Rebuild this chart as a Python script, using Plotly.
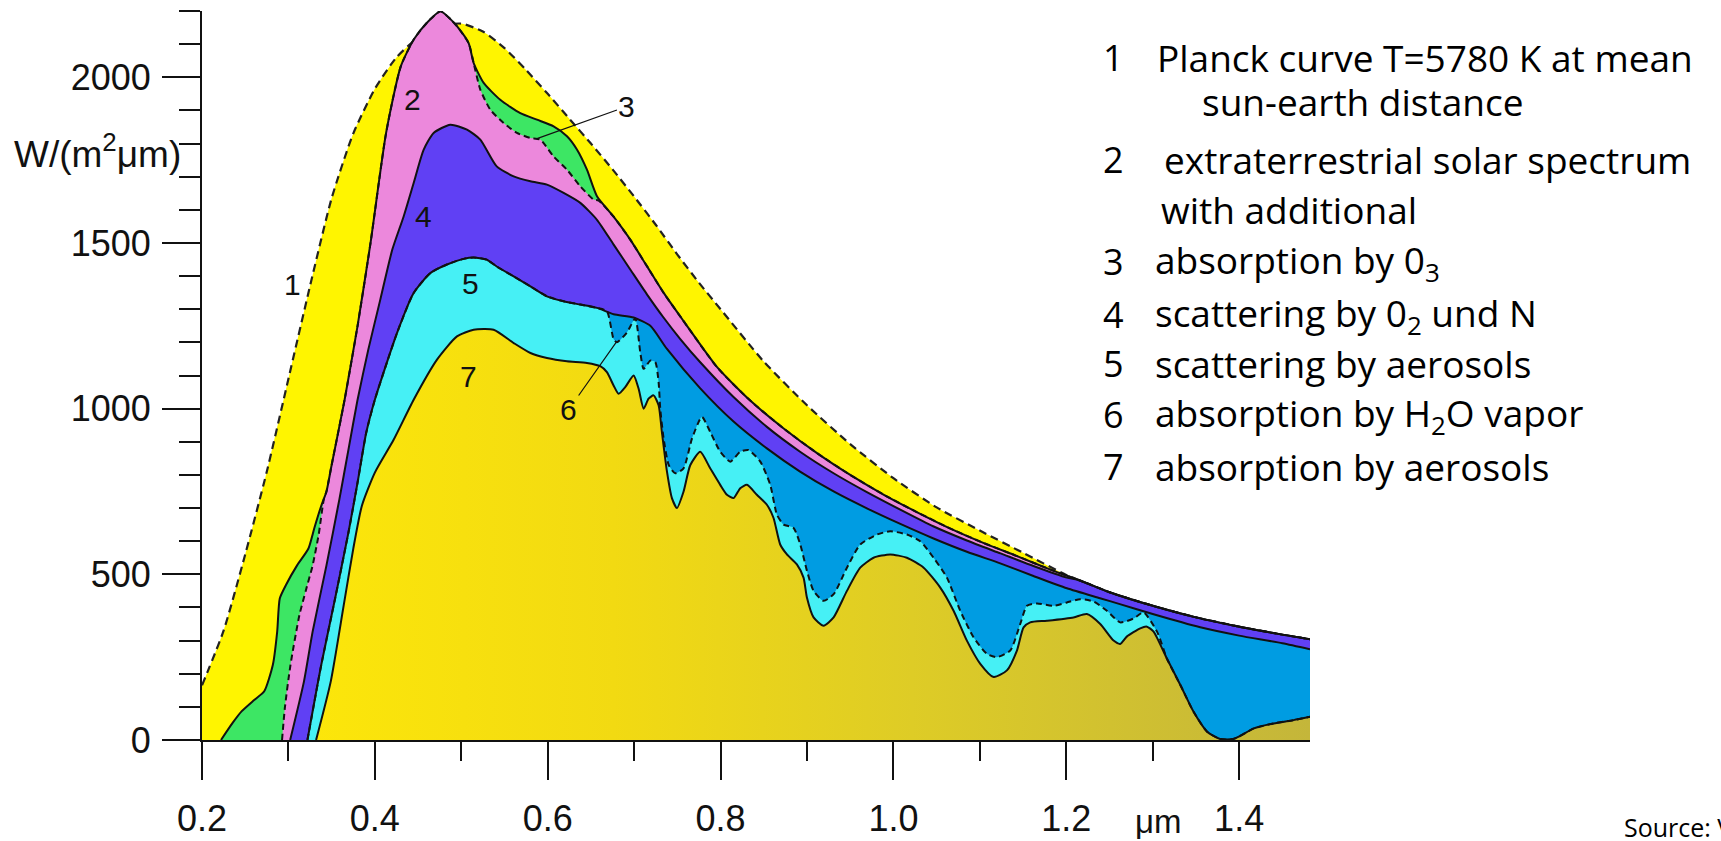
import plotly.graph_objects as go

# ---------------- data ----------------
# wavelength in micrometres, spectral irradiance in W/(m^2 um)
PLANCK_X = [0.200, 0.225, 0.250, 0.275, 0.300, 0.325, 0.350, 0.375, 0.400, 0.425, 0.450, 0.475,
            0.500, 0.525, 0.550, 0.575, 0.600, 0.625, 0.650, 0.675, 0.700, 0.725, 0.750, 0.775,
            0.800, 0.850, 0.900, 0.950, 1.000, 1.050, 1.100, 1.150, 1.200, 1.215, 1.250, 1.300,
            1.350, 1.400, 1.450, 1.482]
PLANCK_Y = [165, 330, 560, 810, 1090, 1370, 1635, 1830, 1965, 2060, 2120, 2155,
            2162, 2138, 2088, 2022, 1950, 1875, 1800, 1722, 1640, 1555, 1465, 1380,
            1300, 1142, 1010, 893, 790, 702, 632, 565, 498, 482, 446, 405,
            370, 342, 318, 304]

EXTRA_X = [0.222, 0.235, 0.246, 0.260, 0.272, 0.282, 0.287, 0.290, 0.297, 0.310, 0.323, 0.330,
           0.338, 0.344, 0.350, 0.365, 0.380, 0.395, 0.413, 0.430, 0.445, 0.460, 0.476, 0.488,
           0.495, 0.5085, 0.5143, 0.5259, 0.5451, 0.5683, 0.5876, 0.6068, 0.6223, 0.6338, 0.6454,
           0.657, 0.676, 0.6955, 0.7148, 0.734, 0.757, 0.796, 0.834, 0.873, 0.912, 0.950, 0.989,
           1.027, 1.066, 1.104, 1.143, 1.181, 1.215, 1.250, 1.300, 1.350, 1.400, 1.450, 1.482]
EXTRA_Y = [0, 50, 87, 120, 147, 227, 327, 427, 467, 527, 577, 640,
           707, 750, 830, 1027, 1250, 1500, 1832, 2033, 2114, 2164, 2199, 2174,
           2154, 2103, 2043, 1983, 1932, 1892, 1872, 1852, 1822, 1782, 1721,
           1641, 1580, 1510, 1430, 1350, 1265, 1125, 1025, 940, 865, 800, 740,
           688, 638, 595, 555, 515, 482, 446, 405, 370, 342, 318, 304]

O3_X = [0.2926, 0.296, 0.3024, 0.3127, 0.320, 0.328, 0.335, 0.341, 0.344, 0.350, 0.365, 0.380,
        0.395, 0.413, 0.430, 0.445, 0.460, 0.476, 0.488, 0.495, 0.5085, 0.5143, 0.522, 0.5336,
        0.549, 0.5644, 0.5798, 0.5914, 0.6068, 0.6223, 0.6377, 0.6531, 0.659, 0.676, 0.6955,
        0.7148, 0.734, 0.757, 0.796, 0.834, 0.873, 0.912, 0.950, 0.989, 1.027, 1.066, 1.104,
        1.143, 1.181, 1.215, 1.250, 1.300, 1.350, 1.400, 1.450, 1.482]
O3_Y = [0, 100, 227, 377, 450, 527, 620, 727, 750, 830, 1027, 1250,
        1500, 1832, 2033, 2114, 2164, 2199, 2174, 2154, 2103, 2043, 1963, 1902,
        1862, 1832, 1817, 1812, 1761, 1721, 1671, 1631, 1628, 1580, 1510,
        1430, 1350, 1265, 1125, 1025, 940, 865, 800, 740, 688, 638, 595,
        555, 515, 482, 446, 405, 370, 342, 318, 304]

RAY_X = [0.302, 0.318, 0.328, 0.344, 0.359, 0.3695, 0.380, 0.3924, 0.4063, 0.4202, 0.4333, 0.4449,
         0.4564, 0.468, 0.4873, 0.5066, 0.522, 0.541, 0.5606, 0.580, 0.5991, 0.6184, 0.6377, 0.657,
         0.6763, 0.6955, 0.7148, 0.734, 0.7534, 0.7765, 0.815, 0.8536, 0.892, 0.9308, 0.9693, 1.008,
         1.046, 1.085, 1.124, 1.162, 1.2007, 1.215, 1.250, 1.300, 1.350, 1.400, 1.450, 1.482]
RAY_Y = [0, 177, 327, 527, 727, 877, 1027, 1178, 1329, 1480, 1580, 1681,
         1781, 1832, 1857, 1842, 1812, 1731, 1701, 1686, 1676, 1651, 1621, 1570,
         1495, 1420, 1345, 1275, 1210, 1140, 1035, 945, 870, 805, 748, 695,
         645, 602, 563, 525, 490, 482, 446, 405, 370, 342, 318, 304]

AERS_X = [0.322, 0.338, 0.354, 0.3695, 0.380, 0.390, 0.400, 0.4256, 0.4449, 0.4641, 0.4834, 0.5027,
          0.5143, 0.529, 0.541, 0.5606, 0.580, 0.5991, 0.6184, 0.6377, 0.657, 0.6763, 0.6994, 0.7187,
          0.738, 0.7765, 0.815, 0.8536, 0.892, 0.9308, 0.9693, 1.008, 1.0464, 1.085, 1.1236, 1.162,
          1.2007, 1.239, 1.262, 1.300, 1.355, 1.400, 1.450, 1.482]
AERS_Y = [0, 227, 427, 627, 777, 927, 1027, 1228, 1349, 1409, 1435, 1452,
          1456, 1450, 1429, 1399, 1369, 1339, 1324, 1314, 1304, 1285, 1275, 1250,
          1180, 1061, 961, 880, 810, 750, 699, 652, 608, 568, 533, 495,
          458, 428, 410, 380, 340, 315, 292, 274]

H2O_X = [0.322, 0.338, 0.354, 0.3695, 0.380, 0.390, 0.400, 0.4256, 0.4449, 0.4641, 0.4834, 0.5027,
         0.5143, 0.529, 0.541, 0.5606, 0.580, 0.5991, 0.6184, 0.6377, 0.657, 0.6685, 0.6762, 0.680,
         0.6917, 0.7013, 0.7071, 0.711, 0.7187, 0.7245, 0.7283, 0.7302, 0.7341, 0.740, 0.7476, 0.7572,
         0.767, 0.7784, 0.788, 0.7996, 0.8112, 0.8228, 0.8324, 0.846, 0.8575, 0.8652, 0.873, 0.8845,
         0.8922, 0.900, 0.9076, 0.9192, 0.9308, 0.9462, 0.9616, 0.981, 0.9963, 1.0156, 1.031, 1.0464,
         1.0619, 1.0773, 1.0927, 1.1082, 1.1197, 1.1352, 1.1467, 1.1545, 1.166, 1.1853, 1.2007, 1.2161,
         1.2316, 1.247, 1.2624, 1.278, 1.2894, 1.305, 1.3164, 1.332, 1.3473, 1.363, 1.378, 1.393,
         1.401, 1.417, 1.440, 1.463, 1.482]
H2O_Y = [0, 227, 427, 627, 777, 927, 1027, 1228, 1349, 1409, 1435, 1452,
         1456, 1450, 1429, 1399, 1369, 1339, 1324, 1314, 1304, 1294, 1210, 1200,
         1230, 1272, 1170, 1120, 1145, 1140, 1080, 1000, 910, 830, 805, 820,
         910, 975, 930, 870, 840, 870, 875, 840, 770, 680, 650, 640,
         590, 510, 450, 420, 440, 520, 590, 620, 630, 620, 600, 550,
         490, 390, 310, 260, 250, 270, 350, 405, 412, 405, 415, 425,
         418, 390, 355, 367, 385, 327, 246, 166, 85, 25, 3, 3,
         12, 35, 50, 60, 70]

GROUND_X = [0.332, 0.349, 0.364, 0.375, 0.385, 0.400, 0.4217, 0.4449, 0.4719, 0.495, 0.5143, 0.5374,
            0.5606, 0.580, 0.5991, 0.6223, 0.6454, 0.6608, 0.6685, 0.6762, 0.682, 0.6897, 0.6994, 0.7052,
            0.711, 0.7167, 0.7225, 0.7283, 0.7321, 0.738, 0.7437, 0.7495, 0.7572, 0.765, 0.7765, 0.788,
            0.7996, 0.8074, 0.8151, 0.8228, 0.8305, 0.842, 0.8536, 0.8613, 0.869, 0.8768, 0.8883, 0.896,
            0.8999, 0.9076, 0.9192, 0.9308, 0.9462, 0.9616, 0.977, 0.9963, 1.0156, 1.035, 1.0542, 1.0696,
            1.085, 1.1005, 1.116, 1.1313, 1.1429, 1.1506, 1.1583, 1.1776, 1.2084, 1.2238, 1.2393, 1.2547,
            1.2624, 1.270, 1.2856, 1.2933, 1.301, 1.3164, 1.332, 1.3473, 1.363, 1.378, 1.393, 1.401,
            1.417, 1.440, 1.463, 1.482]
GROUND_Y = [0, 177, 407, 577, 707, 807, 906, 1027, 1148, 1218, 1238, 1238,
            1198, 1168, 1153, 1143, 1138, 1128, 1110, 1070, 1045, 1065, 1100, 1060,
            1000, 1030, 1040, 1010, 930, 810, 730, 700, 750, 830, 870, 820,
            770, 740, 730, 760, 770, 740, 710, 670, 590, 560, 530, 490,
            430, 370, 345, 370, 450, 520, 550, 560, 550, 520, 460, 390,
            300, 230, 190, 210, 270, 340, 355, 360, 370, 380, 350, 300,
            290, 312, 337, 342, 327, 246, 166, 85, 25, 3, 3, 12,
            35, 50, 60, 70]

X_TICKS = [0.2, 0.4, 0.6, 0.8, 1.0, 1.2, 1.4]
X_TICK_LABELS = ["0.2", "0.4", "0.6", "0.8", "1.0", "1.2", "1.4"]
X_MINOR = [0.3, 0.5, 0.7, 0.9, 1.1, 1.3]
Y_TICKS = [0, 500, 1000, 1500, 2000]
Y_TICK_LABELS = ["0", "500", "1000", "1500", "2000"]
Y_MINOR = [100, 200, 300, 400, 600, 700, 800, 900, 1100, 1200, 1300, 1400,
           1600, 1700, 1800, 1900, 2100, 2200]

CURVE_LABELS = ["1", "2", "4", "5", "7"]
CURVE_LABEL_X = [0.305, 0.443, 0.4564, 0.5104, 0.5085]
CURVE_LABEL_Y = [1374, 1933, 1580, 1379, 1097]

LEGEND_NUMBERS = ["1", "", "2", "", "3", "4", "5", "6", "7"]
LEGEND_TEXTS = ["Planck curve T=5780 K at mean",
                "sun-earth distance",
                "extraterrestrial solar spectrum",
                "with additional",
                "absorption by 0<sub>3</sub>",
                "scattering by 0<sub>2</sub> und N",
                "scattering by aerosols",
                "absorption by H<sub>2</sub>O vapor",
                "absorption by aerosols"]

# ---------------- layout geometry (pixels) ----------------
W, H = 1721, 841
ML, MR, MT, MB = 201.7, 411.3, 11.33, 100.7
PW = W - ML - MR
PH = H - MT - MB


def xp(px):
    return (px - ML) / PW


def yp(py):
    return (H - MB - py) / PH


AXIS_FONT = "Liberation Sans, Arial, sans-serif"
TEXT_FONT = "Open Sans, Noto Sans, sans-serif"

C_YELLOW = "#FFF500"
C_GREEN = "#3DE664"
C_PINK = "#EC88DC"
C_PURPLE = "#6040F4"
C_CYAN = "#46F0F5"
C_BLUE = "#009CE2"

fig = go.Figure()

common = dict(mode="lines", hoverinfo="skip", showlegend=False)
spl = dict(shape="spline", smoothing=0.6)

# filled bands, drawn from the top curve downwards (each filled to zero)
fig.add_trace(go.Scatter(x=PLANCK_X, y=PLANCK_Y, fill="tozeroy", fillcolor=C_YELLOW,
                         line=dict(color="#222222", width=2.2, dash="8px,5px", **spl), **common))
fig.add_trace(go.Scatter(x=EXTRA_X, y=EXTRA_Y, fill="tozeroy", fillcolor=C_GREEN,
                         line=dict(width=0, color=C_GREEN, **spl), **common))
fig.add_trace(go.Scatter(x=O3_X, y=O3_Y, fill="tozeroy", fillcolor=C_PINK,
                         line=dict(width=0, color=C_PINK, **spl), **common))
fig.add_trace(go.Scatter(x=RAY_X, y=RAY_Y, fill="tozeroy", fillcolor=C_PURPLE,
                         line=dict(width=0, color=C_PURPLE, **spl), **common))
fig.add_trace(go.Scatter(x=AERS_X, y=AERS_Y, fill="tozeroy", fillcolor=C_BLUE,
                         line=dict(width=0, color=C_BLUE, **spl), **common))
fig.add_trace(go.Scatter(x=H2O_X, y=H2O_Y, fill="tozeroy", fillcolor=C_CYAN,
                         line=dict(width=0, color=C_CYAN, **spl), **common))
fig.add_trace(go.Scatter(x=GROUND_X, y=GROUND_Y, fill="tozeroy",
                         fillgradient=dict(type="horizontal", start=0.33, stop=1.482,
                                           colorscale=[[0.0, "#FCE60A"], [0.3, "#F2DA12"],
                                                       [0.6, "#DECC26"], [1.0, "#C4B63A"]]),
                         line=dict(width=0, color="#DDCC22", **spl), **common))

# boundary lines on top
fig.add_trace(go.Scatter(x=EXTRA_X, y=EXTRA_Y, line=dict(color="#111111", width=2, **spl), **common))
fig.add_trace(go.Scatter(x=O3_X, y=O3_Y, line=dict(color="#111111", width=2, dash="6px,4px", **spl), **common))
fig.add_trace(go.Scatter(x=RAY_X, y=RAY_Y, line=dict(color="#111111", width=2, **spl), **common))
fig.add_trace(go.Scatter(x=AERS_X, y=AERS_Y, line=dict(color="#111111", width=2, **spl), **common))
fig.add_trace(go.Scatter(x=H2O_X, y=H2O_Y, line=dict(color="#111111", width=2, dash="6px,4px", **spl), **common))
fig.add_trace(go.Scatter(x=GROUND_X, y=GROUND_Y, line=dict(color="#111111", width=2, **spl), **common))

annotations = []
for t, x, y in zip(CURVE_LABELS, CURVE_LABEL_X, CURVE_LABEL_Y):
    annotations.append(dict(x=x, y=y, xref="x", yref="y", text=t, showarrow=False,
                            font=dict(family=AXIS_FONT, size=30, color="#111111")))
# labels with pointer lines
annotations.append(dict(x=0.5876, y=1815, ax=0.6917, ay=1912, xref="x", yref="y",
                        axref="x", ayref="y", text="3", showarrow=True, arrowhead=0,
                        arrowwidth=1.2, arrowcolor="#111111",
                        font=dict(family=AXIS_FONT, size=30, color="#111111")))
annotations.append(dict(x=0.680, y=1203, ax=0.6242, ay=997, xref="x", yref="y",
                        axref="x", ayref="y", text="6", showarrow=True, arrowhead=0,
                        arrowwidth=1.2, arrowcolor="#111111",
                        font=dict(family=AXIS_FONT, size=30, color="#111111")))

# y unit and x unit
annotations.append(dict(x=xp(183), y=yp(152), xref="paper", yref="paper", xanchor="right",
                        yanchor="middle", text="W/(m<sup>2</sup>μm)", showarrow=False,
                        font=dict(family=AXIS_FONT, size=37, color="#111111")))
annotations.append(dict(x=1.307, y=yp(822), xref="x", yref="paper", xanchor="center",
                        yanchor="middle", text="μm", showarrow=False,
                        font=dict(family=AXIS_FONT, size=33, color="#111111")))

# legend text block on the right
LEG_BASE = [70.7, 115, 173.3, 223.3, 275, 328.3, 376.7, 428.3, 480]
LEG_TX = [1154.8, 1199.8, 1162.1, 1159, 1152.7, 1152.7, 1152.7, 1152.7, 1152.7]
for num, txt, b, tx in zip(LEGEND_NUMBERS, LEGEND_TEXTS, LEG_BASE, LEG_TX):
    if num:
        annotations.append(dict(x=xp(1113), y=yp(b - 13), xref="paper", yref="paper",
                                xanchor="center", yanchor="middle", text=num, showarrow=False,
                                font=dict(family=TEXT_FONT, size=36, color="#000000")))
    annotations.append(dict(x=xp(tx), y=yp(b - 13), xref="paper", yref="paper",
                            xanchor="left", yanchor="middle", text=txt, showarrow=False,
                            font=dict(family=TEXT_FONT, size=37, color="#000000")))

annotations.append(dict(x=xp(1622), y=yp(827), xref="paper", yref="paper", xanchor="left",
                        yanchor="middle", text="Source: V", showarrow=False,
                        font=dict(family=TEXT_FONT, size=25, color="#000000")))

fig.update_layout(
    width=W, height=H,
    margin=dict(l=ML, r=MR, t=MT, b=MB, pad=0, autoexpand=False),
    paper_bgcolor="white", plot_bgcolor="rgba(0,0,0,0)",
    showlegend=False,
    annotations=annotations,
    xaxis=dict(range=[0.2, 1.482], showgrid=False, zeroline=False, showline=True,
               automargin=False,
               linecolor="#111111", linewidth=2, ticks="outside", ticklen=38, tickwidth=1.6,
               tickcolor="#111111", tickvals=X_TICKS, ticktext=X_TICK_LABELS,
               tickfont=dict(family=AXIS_FONT, size=36, color="#111111"),
               ticklabelstandoff=8,
               minor=dict(tickvals=X_MINOR, ticks="outside", ticklen=19, tickwidth=1.6,
                          tickcolor="#111111", showgrid=False)),
    yaxis=dict(range=[0, 2200], showgrid=False, zeroline=False, showline=True,
               automargin=False,
               linecolor="#111111", linewidth=2, ticks="outside", ticklen=38, tickwidth=1.6,
               tickcolor="#111111", tickvals=Y_TICKS, ticktext=Y_TICK_LABELS,
               tickfont=dict(family=AXIS_FONT, size=36, color="#111111"),
               ticklabelstandoff=4,
               minor=dict(tickvals=Y_MINOR, ticks="outside", ticklen=21, tickwidth=1.6,
                          tickcolor="#111111", showgrid=False)),
)

fig.write_html("out.html", config={"displayModeBar": False},
               post_script="document.body.style.margin='0';")
